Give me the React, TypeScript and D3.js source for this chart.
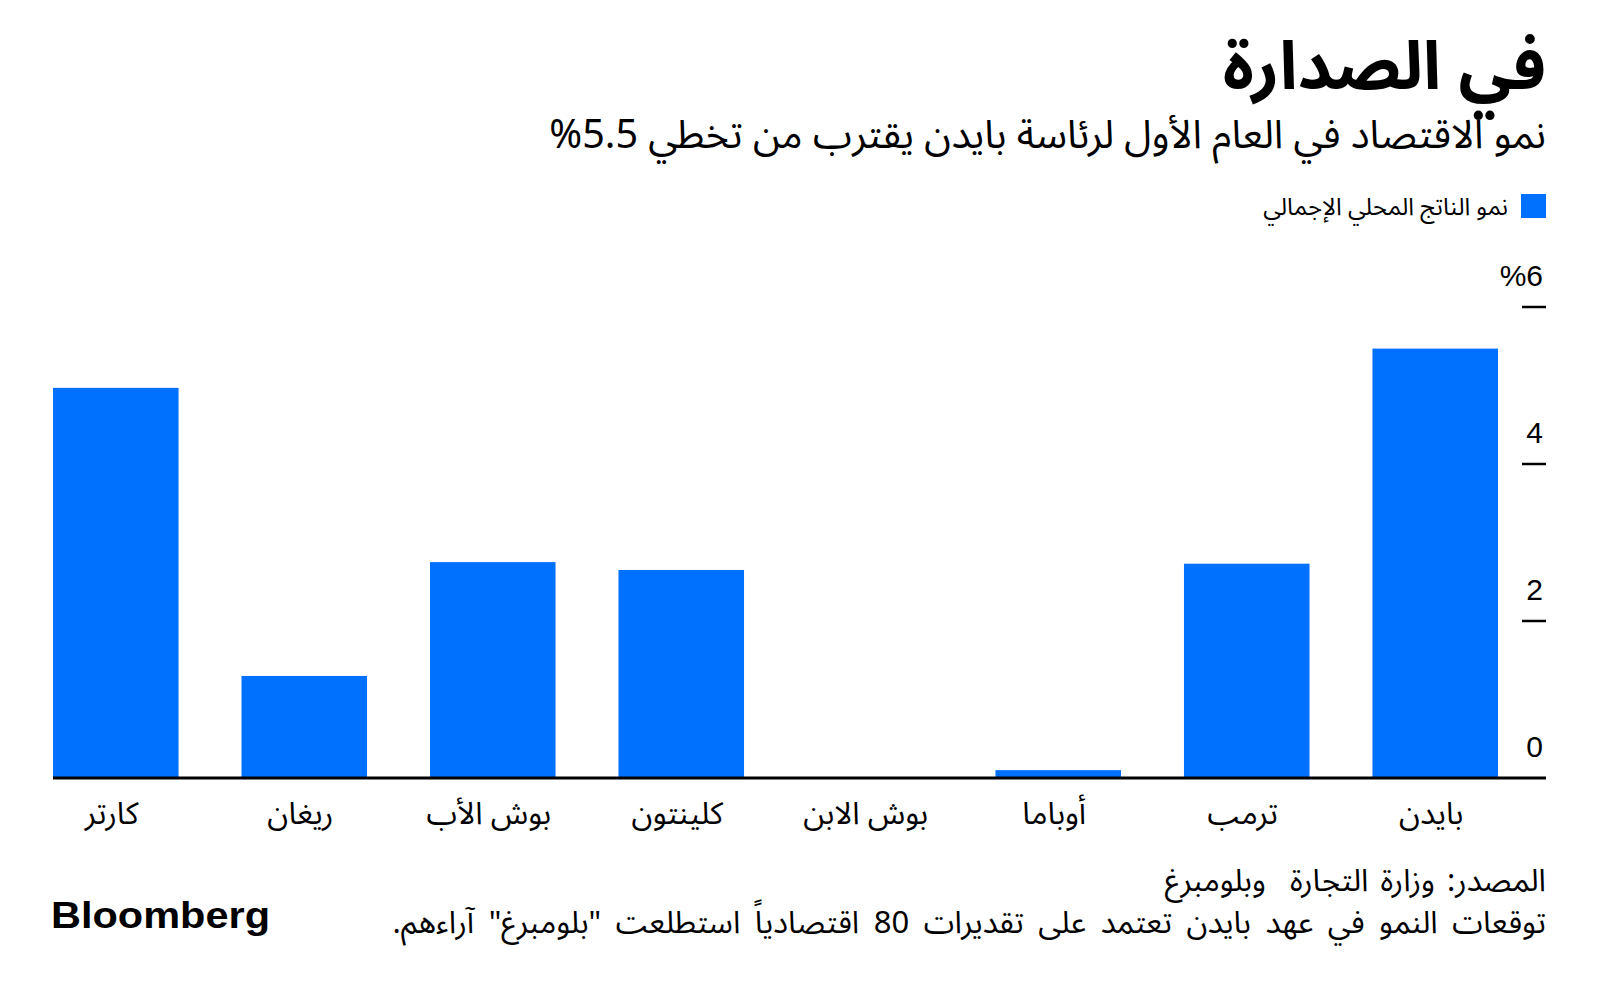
import React from "react";
import * as d3 from "d3";

const categories = ["كارتر", "ريغان", "بوش الأب", "كلينتون", "بوش الابن", "أوباما", "ترمب", "بايدن"];
const gdpGrowth = [4.97, 1.3, 2.75, 2.65, 0, 0.1, 2.73, 5.47];
const yTicks = [0, 2, 4, 6];
const yTickLabels = ["0", "2", "4", "%6"];

const title = "في الصدارة";
const subtitle = "نمو الاقتصاد في العام الأول لرئاسة بايدن يقترب من تخطي \u202D%5.5\u202C";
const legendLabel = "نمو الناتج المحلي الإجمالي";
const source = "المصدر: وزارة التجارة  وبلومبرغ";
const note = "توقعات النمو في عهد بايدن تعتمد على تقديرات 80 اقتصادياً استطلعت \"بلومبرغ\" آراءهم.";

const W = 1600;
const H = 1000;
const BLUE = "#0070ff";
const AR = "'Noto Sans Arabic', 'DejaVu Sans', sans-serif";

export default function App() {
  const x = d3.scaleBand<string>().domain(categories).range([53, 1498]).paddingInner(0.334).paddingOuter(0);
  const y = d3.scaleLinear().domain([0, 6]).range([778, 307]);
  const right = 1546;

  return (
    <svg width={W} height={H} style={{ position: "absolute", left: 0, top: 0, background: "#fff" }}>
      <rect x={0} y={0} width={W} height={H} fill="#fff" />
      <text x={right} y={89} textAnchor="start" direction="rtl" fontFamily={AR} fontWeight={700} fontSize={67} fill="#000">
        {title}
      </text>
      <text x={right} y={148} textAnchor="start" direction="rtl" fontFamily={AR} fontSize={39.6} fill="#000">
        {subtitle}
      </text>
      <rect x={1521} y={194} width={25} height={24} fill={BLUE} />
      <text x={1508} y={215} textAnchor="start" direction="rtl" fontFamily={AR} fontSize={24} fill="#000">
        {legendLabel}
      </text>

      {categories.map((c, i) => {
        const v = gdpGrowth[i];
        return (
          <rect key={c} x={x(c)} y={y(Math.max(0, v))} width={x.bandwidth()} height={Math.abs(y(v) - y(0))} fill={BLUE} />
        );
      })}

      <line x1={53} x2={right} y1={y(0)} y2={y(0)} stroke="#000" strokeWidth={3} />
      {yTicks.map((t, i) => (
        <g key={t}>
          {t !== 0 && <line x1={1522} x2={right} y1={y(t)} y2={y(t)} stroke="#000" strokeWidth={2.5} />}
          <text x={1543} y={y(t) - 21} textAnchor="end" fontFamily="'Liberation Sans', Arial, sans-serif" fontSize={30} fill="#000">
            {yTickLabels[i]}
          </text>
        </g>
      ))}

      {categories.map((c) => (
        <text key={c} x={(x(c) as number) + x.bandwidth() / 2 - 4} y={824} textAnchor="middle" direction="rtl" fontFamily={AR} fontSize={31} fill="#000">
          {c}
        </text>
      ))}

      <text x={right} y={891} textAnchor="start" direction="rtl" fontFamily={AR} fontSize={31} wordSpacing={4} fill="#000" style={{ whiteSpace: "pre" }}>
        {source}
      </text>
      <text x={right} y={933} textAnchor="start" direction="rtl" fontFamily={AR} fontSize={31} wordSpacing={6.5} fill="#000">
        {note}
      </text>
      <text x={51} y={928} fontFamily="'Liberation Sans', Arial, sans-serif" fontWeight={700} fontSize={36} textLength={219} lengthAdjust="spacingAndGlyphs" fill="#000">
        Bloomberg
      </text>
    </svg>
  );
}
